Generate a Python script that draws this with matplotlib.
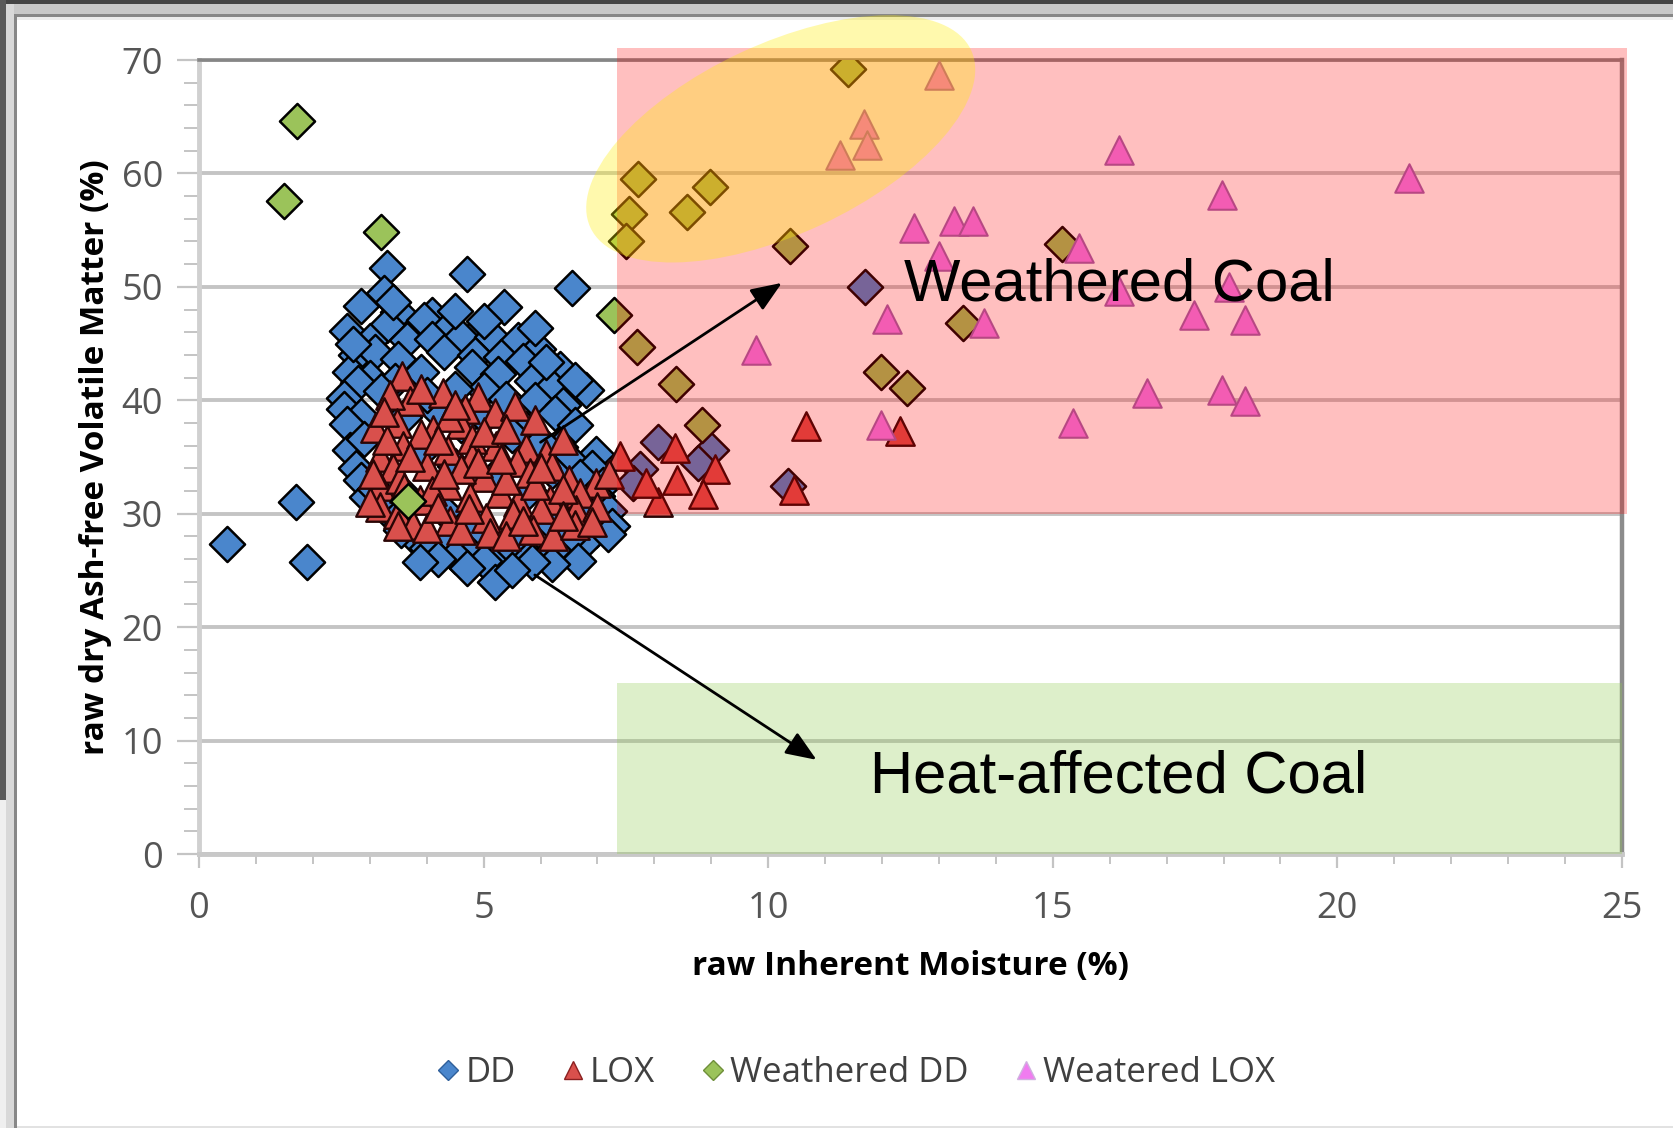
import matplotlib
matplotlib.use("Agg")
import matplotlib.pyplot as plt
import matplotlib.transforms as mtransforms
from matplotlib.lines import Line2D
from matplotlib.patches import Ellipse, Rectangle
from matplotlib.ticker import MultipleLocator

plt.rcParams["font.family"] = ["Open Sans", "DejaVu Sans"]

# ---- data (raw inherent moisture %, raw daf VM %) ----
dd_x = [0.5, 1.7, 1.9, 3.3, 4.7, 3.25, 6.55, 2.85, 3.5, 5.35, 4.1,
        2.6, 3.3, 3.95, 4.4, 4.9, 3.0, 3.65, 4.1, 4.6, 5.15, 5.6, 5.95,
        2.75, 3.1, 3.5, 4.3, 4.85, 5.3, 5.7, 6.35, 2.65,
        3.0, 3.45, 3.9, 4.8, 5.25, 5.85, 6.2, 2.8,
        2.55, 3.2, 5.0, 5.4, 5.9, 6.8, 6.4,
        2.55, 2.85, 2.6, 6.25, 5.75, 6.6,
        2.65, 2.9, 6.35, 6.98, 6.5, 6.9,
        2.75, 2.85, 6.7, 7.1,
        2.95, 3.1, 7.0, 6.7, 7.2,
        3.25, 3.47, 6.69, 7.0, 7.25,
        3.76, 3.55, 4.35, 4.0, 6.98, 6.8, 7.18, 6.5,
        4.76, 4.5, 5.22, 5.5, 5.81, 6.22, 6.66, 6.2, 5.0, 4.2,
        3.88, 5.2, 5.85, 5.5, 4.7,
        3.6, 4.2, 4.6, 5.0, 5.5, 3.9, 4.5, 5.2, 5.8, 3.6, 4.3, 4.9, 5.6,
        6.1, 4.5, 4.0, 6.0, 6.2,
        2.7, 3.4, 4.5, 5.0, 5.9, 6.1, 6.6,
        11.7, 8.06, 7.74, 9.0, 8.76, 10.34, 7.62]
dd_y = [27.3, 31.0, 25.7, 51.7, 51.1, 49.5, 49.9, 48.3, 47.8, 48.2, 47.5,
        46.1, 46.6, 47.1, 46.5, 46.0, 45.2, 45.3, 45.4, 45.6, 45.6, 45.3, 44.5,
        44.0, 44.3, 43.6, 44.3, 44.0, 43.8, 43.5, 42.8, 42.5,
        42.0, 41.7, 42.5, 42.9, 42.3, 41.7, 41.2, 41.5,
        40.2, 40.8, 40.9, 40.1, 40.0, 40.9, 39.6,
        39.2, 38.6, 37.9, 38.9, 37.5, 37.8,
        35.6, 36.6, 35.9, 35.3, 34.8, 34.0,
        34.0, 33.0, 33.2, 32.5,
        31.5, 32.2, 31.6, 30.8, 30.2,
        30.5, 29.7, 30.0, 29.3, 28.9,
        28.0, 28.6, 27.4, 27.0, 28.6, 27.7, 28.2, 27.9,
        26.8, 26.3, 26.5, 27.0, 26.2, 26.8, 25.8, 25.6, 25.8, 26.0,
        25.7, 24.0, 25.7, 25.0, 25.2,
        38.5, 39.0, 37.8, 38.5, 36.9, 35.4, 34.2, 33.3, 32.0, 31.7, 30.2, 28.9, 28.7,
        29.6, 41.0, 40.5, 36.3, 33.8,
        45.0, 48.7, 47.9, 47.0, 46.4, 43.4, 41.8,
        50.0, 36.3, 33.9, 35.6, 34.5, 32.4, 32.7]

lox_x = [3.56, 4.29, 3.7, 4.9, 3.35, 4.67, 5.2, 5.55, 3.47, 4.11, 4.6, 3.1,
         3.18, 3.59, 4.38, 5.22, 4.8, 5.75, 6.1, 4.0, 4.79, 5.58, 3.4, 6.2,
         3.18, 3.53, 4.35, 5.81, 6.98, 5.0, 6.5, 4.76, 5.28, 6.16, 3.88, 4.1,
         5.6, 6.7, 6.63, 3.18, 5.52, 5.05, 4.41, 3.5, 6.0, 7.0, 3.76, 5.87,
         6.22, 5.11, 4.6, 4.0, 6.6, 5.4, 3.9, 4.4, 5.0, 3.3, 4.2, 5.4, 4.6,
         5.9, 3.7, 3.0, 3.05,
         3.9, 4.5, 5.9, 6.4, 3.25, 4.9, 5.4, 6.4, 3.6, 4.3, 5.7, 6.4, 4.2,
         3.5, 6.9, 5.3, 4.75, 6.0,
         7.4, 8.36, 9.06, 8.06, 8.85, 10.67, 10.46, 7.86, 8.39, 12.31, 7.2]
lox_y = [42.1, 40.6, 39.9, 40.3, 40.5, 39.2, 38.9, 39.5, 38.0, 37.4, 37.9, 37.6,
         35.0, 36.0, 35.6, 36.0, 36.6, 35.8, 35.3, 34.2, 35.0, 34.6, 34.0, 34.2,
         32.4, 33.1, 32.5, 33.6, 32.7, 33.2, 33.0, 31.5, 31.8, 31.2, 31.2, 32.0,
         31.0, 31.8, 30.3, 30.6, 30.0, 29.6, 29.4, 30.0, 30.4, 30.6, 29.0, 28.6,
         28.0, 28.3, 28.6, 28.7, 29.0, 28.0, 37.0, 38.5, 37.2, 36.5, 36.5, 37.5, 33.9,
         32.5, 35.0, 31.0, 33.5,
         41.0, 39.6, 38.3, 36.5, 39.0, 34.5, 33.0, 32.2, 32.3, 33.5, 29.4, 29.8, 30.5,
         28.9, 29.3, 34.8, 30.4, 34.0,
         35.1, 35.8, 33.9, 31.0, 31.7, 37.7, 32.1, 32.7, 33.0, 37.3, 33.5]

wdd_x = [1.72, 1.50, 3.19, 3.68, 7.29, 11.41, 7.72, 7.55, 7.51, 8.58, 8.98,
         10.38, 7.70, 8.38, 8.83, 11.99, 12.43, 15.16, 13.42]
wdd_y = [64.6, 57.6, 54.8, 31.1, 47.5, 69.2, 59.5, 56.4, 54.0, 56.6, 58.8,
         53.6, 44.7, 41.4, 37.8, 42.5, 41.1, 53.8, 46.8]

wlox_x = [13.0, 11.69, 11.26, 11.73, 16.17, 21.26, 17.98, 12.57, 13.27, 13.6,
          13.0, 15.46, 16.17, 18.1, 12.09, 13.79, 17.48, 18.38, 9.78, 16.66,
          17.98, 18.38, 15.36, 11.98]
wlox_y = [68.7, 64.4, 61.6, 62.5, 62.1, 59.6, 58.1, 55.2, 55.8, 55.8,
          52.7, 53.4, 49.6, 50.0, 47.2, 46.8, 47.5, 47.1, 44.4, 40.6,
          40.9, 39.9, 38.0, 37.8]

x_ticks = [0, 5, 10, 15, 20, 25]
y_ticks = [0, 10, 20, 30, 40, 50, 60, 70]

DD_C, LOX_C, WDD_C, WLOX_C = "#4a86cc", "#d9504c", "#9bc35a", "#f07cf0"
TICK_GREY = "#555555"

fig = plt.figure(figsize=(16.74, 11.28), dpi=100, facecolor="white")
W, H = 1674, 1128


def frame_rect(x0, y0, x1, y1, color):
    # pixel box (top-left origin) drawn on the figure
    fig.patches.append(Rectangle((x0 / W, 1 - y1 / H), (x1 - x0) / W, (y1 - y0) / H,
                                 transform=fig.transFigure, color=color, lw=0, zorder=-5))


# window-ish frame round the chart
frame_rect(0, 0, W, 4, "#454545")
frame_rect(0, 4, W, 14, "#c8c8c8")
frame_rect(14, 14, W, 17, "#878787")
frame_rect(17, 17, W, 20, "#ececec")
frame_rect(0, 0, 6, 800, "#5a5a5a")
frame_rect(0, 800, 6, H, "#efefef")
frame_rect(6, 4, 14, H, "#d8d8d8")
frame_rect(14, 14, 17, H, "#878787")
frame_rect(17, 1126, W, H, "#e2e2e2")

ax = fig.add_axes([199 / W, 1 - 854 / H, (1622 - 199) / W, (854 - 60) / H])
ax.set_xlim(0, 25)
ax.set_ylim(0, 70)
ax.set_xticks(x_ticks)
ax.set_yticks(y_ticks)
ax.xaxis.set_minor_locator(MultipleLocator(1))
ax.yaxis.set_minor_locator(MultipleLocator(2))
ax.set_axisbelow(True)
ax.yaxis.grid(True, color="#c4c4c4", lw=2.8)

ax.tick_params(axis="x", which="major", length=10, width=1.6, color="#c4c4c4",
               pad=17, labelsize=26, labelcolor=TICK_GREY)
ax.tick_params(axis="x", which="minor", length=7, width=1.4, color="#c4c4c4")
ax.tick_params(axis="y", which="major", length=16, width=1.6, color="#c4c4c4",
               pad=10, labelsize=26, labelcolor=TICK_GREY)
ax.tick_params(axis="y", which="minor", length=11, width=1.4, color="#c4c4c4")

ax.spines["left"].set(color="#d0d0d0", lw=3.5)
ax.spines["bottom"].set(color="#c8c8c8", lw=3.5)
ax.spines["top"].set(color="#868686", lw=2.6)
ax.spines["right"].set(color="#8c8c8c", lw=3.2)

ax.set_xlabel("raw Inherent Moisture (%)", fontsize=24, fontweight="bold", labelpad=16)
ax.set_ylabel("raw dry Ash-free Volatile Matter (%)", fontsize=24, fontweight="bold", labelpad=7)

ax.scatter(dd_x, dd_y, marker="D", s=320, c=DD_C, edgecolors="black", linewidths=1.8, zorder=3)
ax.scatter(lox_x, lox_y, marker="^", s=420, c=LOX_C, edgecolors="#2a0505", linewidths=1.7, zorder=3)
ax.scatter(wdd_x, wdd_y, marker="D", s=320, c=WDD_C, edgecolors="black", linewidths=1.8, zorder=3)
ax.scatter(wlox_x, wlox_y, marker="^", s=420, c=WLOX_C, edgecolors="#a060b0", linewidths=1.5, zorder=3)

# translucent zone boxes sit on top of the points, as in the original
ax.add_patch(Rectangle((7.35, 30), 25.08 - 7.35, 41.05, facecolor="#ff0000", alpha=0.25,
                       lw=0, clip_on=False, zorder=5))
ax.add_patch(Rectangle((7.35, 0), 25.0 - 7.35, 15.08, facecolor="#91ca52", alpha=0.3,
                       lw=0, clip_on=False, zorder=5))

# highlight ellipse, sized in inches so it keeps its tilt on a non-square axes
ell_trans = fig.dpi_scale_trans + mtransforms.ScaledTranslation(10.22, 63.05, ax.transData)
ax.add_patch(Ellipse((0, 0), 4.2, 1.9, angle=25, transform=ell_trans, facecolor="#ffee00",
                     alpha=0.32, lw=0, clip_on=False, zorder=6))

ax.text(12.39, 50.2, "Weathered Coal", fontsize=43, family=["Liberation Sans", "DejaVu Sans"],
        ha="left", va="center", zorder=7)
ax.text(11.78, 6.8, "Heat-affected Coal", fontsize=43, family=["Liberation Sans", "DejaVu Sans"],
        ha="left", va="center", zorder=7)

arrow = dict(arrowstyle="-|>,head_length=0.75,head_width=0.3", mutation_scale=25,
             lw=2, color="black", shrinkA=0, shrinkB=0)
ax.annotate("", xy=(10.24, 50.35), xytext=(6.0, 36.3), arrowprops=arrow, zorder=8)
ax.annotate("", xy=(10.85, 8.3), xytext=(5.9, 24.6), arrowprops=arrow, zorder=8)

handles = [
    Line2D([], [], ls="", marker="D", ms=10, mfc=DD_C, mec="#2f5f9a", mew=1),
    Line2D([], [], ls="", marker="^", ms=13, mfc=LOX_C, mec="#8a2020", mew=1),
    Line2D([], [], ls="", marker="D", ms=10, mfc=WDD_C, mec="#6f8f3a", mew=1),
    Line2D([], [], ls="", marker="^", ms=13, mfc=WLOX_C, mec="#d0b0e0", mew=1),
]
labels = ["DD", "LOX", "Weathered DD", "Weatered LOX"]
fig.legend(handles, labels, loc="center", bbox_to_anchor=(0.511, 1 - 1073 / H), ncol=4,
           frameon=False, fontsize=25, labelcolor="#404040", handlelength=0.7,
           handletextpad=0.15, columnspacing=1.3)

fig.savefig("out.png", dpi=100, facecolor="white")
